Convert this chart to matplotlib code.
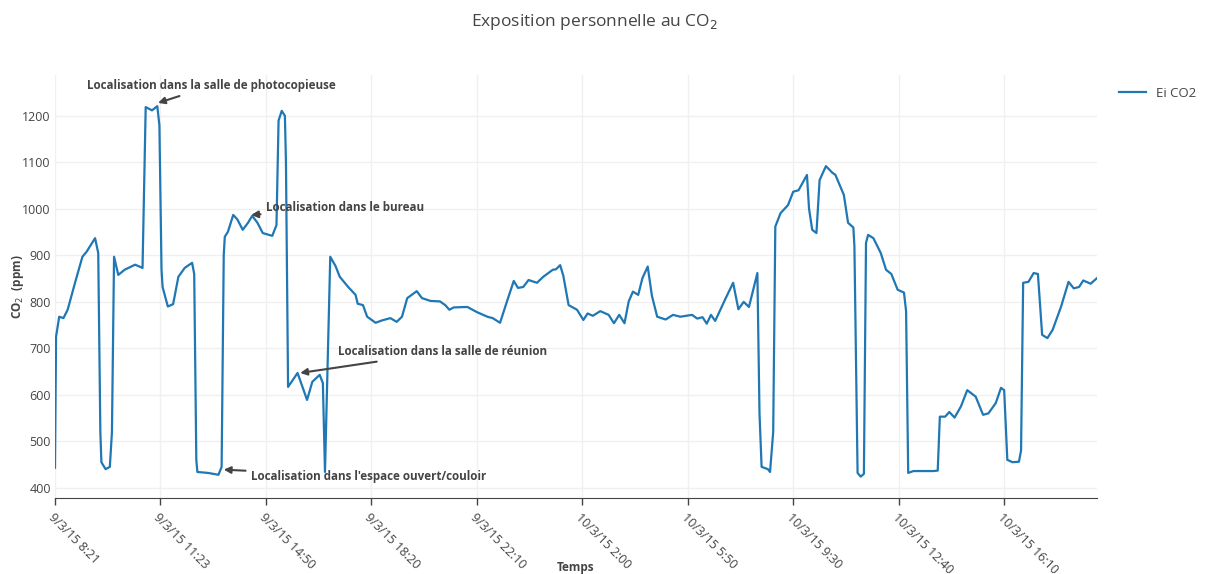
import matplotlib
matplotlib.use('Agg')
from matplotlib import pyplot as plt

plt.rcParams['font.family'] = ['Open Sans', 'DejaVu Sans']

# sample index (categorical time axis) and CO2 values
idx = [0, 1, 4, 8, 12, 19, 26, 30, 38, 41, 43, 44, 48, 52, 54, 56, 60, 66,
       76, 83, 86, 92, 97, 99, 101, 102, 107, 112, 117, 123, 130, 132, 134,
       135, 145, 155, 158, 160, 161, 164, 169, 173, 178, 183, 187, 192, 197,
       206, 210, 212, 215, 218, 219, 221, 230, 239, 244, 251, 254, 256, 261,
       266, 270, 278, 285, 287, 292, 296, 304, 310, 318, 324, 329, 334, 343,
       348, 356, 365, 370, 374, 378, 391, 400, 410, 415, 422, 429, 435, 439,
       444, 449, 457, 463, 472, 475, 479, 482, 487, 495, 501, 505, 510, 517,
       525, 530, 535, 540, 544, 548, 553, 557, 562, 566, 571, 579, 586, 593,
       604, 609, 614, 618, 622, 626, 636, 643, 648, 653, 658, 666, 668, 670,
       676, 678, 681, 683, 688, 695, 700, 705, 713, 715, 718, 722, 725, 731,
       737, 740, 748, 752, 757, 758, 761, 764, 767, 769, 771, 776, 783, 788,
       793, 799, 805, 807, 809, 814, 833, 837, 839, 844, 848, 853, 859, 865,
       873, 880, 885, 892, 897, 900, 903, 908, 914, 916, 918, 923, 928, 932,
       936, 941, 946, 954, 961, 966, 971, 975, 982, 988]
co2 = [443, 725, 768, 765, 783, 841, 897, 908, 937, 905, 520, 455, 440, 445,
       520, 897, 858, 869, 880, 873, 1219, 1212, 1221, 1180, 870, 832, 790,
       795, 854, 873, 884, 860, 460, 434, 432, 428, 445, 900, 940, 951, 987,
       977, 955, 970, 985, 970, 948, 942, 965, 1190, 1211, 1200, 1100, 617,
       647, 589, 628, 643, 625, 434, 897, 877, 854, 832, 815, 796, 793, 768,
       755, 760, 765, 757, 768, 808, 823, 808, 802, 801, 793, 783, 788, 789,
       778, 768, 765, 755, 804, 845, 830, 832, 847, 841, 854, 869, 870, 879,
       856, 793, 783, 761, 775, 770, 780, 772, 754, 772, 754, 801, 822, 815,
       851, 876, 813, 768, 762, 772, 768, 772, 764, 767, 753, 772, 759, 808,
       841, 784, 800, 789, 862, 560, 445, 440, 434, 520, 962, 991, 1008, 1037,
       1040, 1073, 1000, 955, 948, 1062, 1092, 1078, 1073, 1030, 970, 960,
       920, 432, 424, 430, 927, 944, 937, 905, 869, 860, 826, 820, 780, 432,
       436, 436, 437, 553, 553, 563, 551, 575, 610, 596, 557, 560, 582, 615,
       610, 460, 455, 456, 480, 841, 843, 862, 860, 729, 722, 740, 790, 843,
       829, 832, 846, 839, 851]

tick_pos = [0, 100, 200, 300, 400, 500, 600, 700, 800, 900]
tick_labels = ['9/3/15 8:21', '9/3/15 11:23', '9/3/15 14:50', '9/3/15 18:20',
               '9/3/15 22:10', '10/3/15 2:00', '10/3/15 5:50', '10/3/15 9:30',
               '10/3/15 12:40', '10/3/15 16:10']

notes = [
    ('Localisation dans la salle de photocopieuse', 97.7, 1228, 53, 17),
    ('Localisation dans le bureau', 186, 987, 94, 7),
    ('Localisation dans la salle de réunion', 232.5, 647, 142, 21),
    ("Localisation dans l'espace ouvert/couloir", 160, 439, 145, -7),
]

fig = plt.figure(figsize=(12.06, 5.74), dpi=100)
ax = fig.add_axes([0.0456, 0.1324, 0.864, 0.7369])

ax.plot(idx, co2, color='#1f77b4', lw=1.6, label='Ei CO2')
ax.set_xlim(0, 988)
ax.set_ylim(378, 1288)

ax.set_xticks(tick_pos)
ax.set_xticklabels(tick_labels)
ax.set_yticks(range(400, 1201, 100))
ax.tick_params(axis='x', colors='#444', labelsize=9, length=5, width=1,
               direction='out', pad=4, labelrotation=-45)
ax.tick_params(axis='y', colors='#444', labelsize=9, length=0, pad=3)
for lab in ax.get_xticklabels():
    lab.set_ha('left')
    lab.set_rotation_mode('anchor')
ax.grid(color='#f0f0f0', lw=1)
ax.set_axisbelow(True)
for side in ['top', 'right', 'left']:
    ax.spines[side].set_visible(False)
ax.spines['bottom'].set_color('#444')

for text, x, y, dx, dy in notes:
    ax.annotate(text, xy=(x, y), xytext=(dx, dy), textcoords='offset pixels',
                ha='center', va='center', fontsize=8.4, fontweight='bold',
                color='#444',
                arrowprops=dict(arrowstyle='-|>', color='#444', lw=1.5,
                                shrinkA=2, shrinkB=0, mutation_scale=10))

fig.text(0.493, 0.962, 'Exposition personnelle au CO$_2$', ha='center',
         va='center', fontsize=12.5, color='#444')
fig.text(0.015, 0.5, 'CO$_2$  (ppm)', rotation=90, ha='center', va='center',
         fontsize=8.5, fontweight='bold', color='#444')
fig.text(0.477, 0.012, 'Temps', ha='center', va='center', fontsize=8.5,
         fontweight='bold', color='#444')

ax.legend(loc='upper left', bbox_to_anchor=(1.01, 1.0), frameon=False,
          fontsize=9.5, handlelength=2.0, labelcolor='#444')

plt.savefig('out.png', dpi=100)
